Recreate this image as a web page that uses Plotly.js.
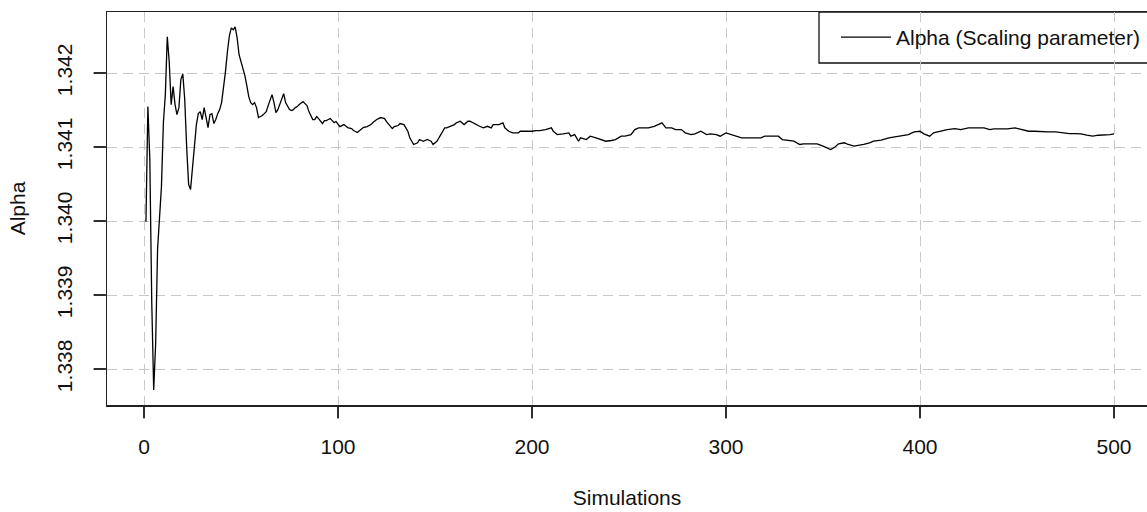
<!DOCTYPE html>
<html>
<head>
<meta charset="utf-8">
<script src="https://cdn.plot.ly/plotly-3.0.1.min.js"></script>
<style>
html,body{margin:0;padding:0;background:#fff;}
#chart{width:1147px;height:512px;}
.js-plotly-plot .plotly path.ticks{shape-rendering:geometricPrecision !important;}
</style>
</head>
<body>
<div id="chart"></div>
<script>
// Simulation index (x) and running estimate of alpha (y)
const simulations = [
  1,2,3,4,5,6,7,8,9,10,11,12,13,14,15,16,17,18,19,20,
  21,22,23,24,25,26,27,28,29,30,31,32,33,34,35,36,37,38,39,40,
  41,42,43,44,45,46,47,48,49,50,51,52,53,54,55,56,57,58,59,60,
  61,62,63,64,65,66,67,68,69,70,71,72,73,74,75,76,77,78,79,80,
  81,82,83,84,85,86,87,88,89,90,91,92,93,94,95,96,97,98,99,100,
  101,103,105,107,108,110,111,112,113,115,117,118,120,122,124,125,127,128,129,131,
  132,134,136,137,139,141,142,144,146,148,149,151,153,155,156,158,160,161,163,165,
  167,168,171,173,175,177,179,180,183,185,186,188,190,193,194,197,198,200,202,204,
  207,210,211,213,216,219,220,222,224,225,228,230,233,236,238,241,243,246,248,251,
  253,255,258,260,263,265,267,269,272,274,277,279,282,284,287,290,292,295,297,300,
  303,305,308,311,315,318,320,323,327,329,332,335,338,340,344,347,350,352,354,356,
  358,361,363,366,369,371,374,376,380,384,387,390,394,397,400,402,405,407,411,414,
  418,421,425,428,431,433,436,438,442,445,449,452,456,459,463,466,470,473,477,480,
  483,486,489,492,495,498,500
];
const alpha = [
  1.33999,1.341546,1.340832,1.33890,1.337718,1.338338,1.339619,1.34009,1.340468,1.34133,
  1.341708,1.342489,1.342152,1.341573,1.341815,1.341573,1.341438,1.341532,1.34191,1.34199,
  1.34164,1.340993,1.340495,1.340427,1.340697,1.340993,1.341303,1.341451,1.341478,1.341371,
  1.341532,1.341398,1.341263,1.341438,1.341451,1.341317,1.341371,1.341451,1.341505,1.3416,
  1.341775,1.342018,1.342287,1.342503,1.34261,1.342584,1.342624,1.342476,1.342247,1.342152,
  1.342044,1.341964,1.341829,1.341681,1.3416,1.341573,1.3416,1.341532,1.341398,1.341411,
  1.341425,1.341451,1.341478,1.341559,1.34164,1.341708,1.3416,1.341465,1.341505,1.341586,
  1.341667,1.341721,1.3416,1.341546,1.341505,1.341492,1.341505,1.341532,1.341546,1.341573,
  1.3416,1.341613,1.341586,1.341559,1.341478,1.341425,1.341371,1.341371,1.341411,1.341384,
  1.341344,1.341317,1.341357,1.341357,1.341371,1.341384,1.341357,1.34133,1.341344,1.341317,
  1.341276,1.341303,1.341263,1.341249,1.341222,1.341195,1.341222,1.341236,1.341263,1.341276,
  1.341303,1.34133,1.341371,1.341398,1.341384,1.341344,1.341276,1.341249,1.341276,1.34129,
  1.341317,1.341303,1.341213,1.341124,1.341034,1.341057,1.341101,1.341078,1.341101,1.341078,
  1.341034,1.341078,1.341168,1.341259,1.341259,1.34128,1.341303,1.341326,1.341348,1.341303,
  1.341348,1.341348,1.341303,1.34128,1.341259,1.34128,1.341259,1.341303,1.341303,1.341326,
  1.341259,1.341213,1.341191,1.341191,1.341213,1.341213,1.341205,1.341213,1.341222,1.341222,
  1.341236,1.341259,1.341213,1.341168,1.341178,1.341191,1.341146,1.341168,1.341078,1.341124,
  1.341101,1.341146,1.341124,1.341101,1.341078,1.341088,1.341101,1.341146,1.341146,1.341168,
  1.341236,1.341259,1.341259,1.341259,1.34128,1.341303,1.341326,1.341259,1.341259,1.341236,
  1.341236,1.341191,1.341168,1.341178,1.341213,1.341168,1.341178,1.341168,1.341146,1.341191,
  1.341168,1.341146,1.341124,1.341124,1.341124,1.341124,1.341146,1.341146,1.341146,1.341101,
  1.341088,1.341078,1.341034,1.341043,1.341043,1.341043,1.341011,1.340989,1.340966,1.340997,
  1.341043,1.341057,1.341034,1.341011,1.341024,1.341034,1.341057,1.341078,1.341092,1.341124,
  1.341137,1.341146,1.341168,1.341205,1.341213,1.341178,1.341146,1.341191,1.341222,1.341236,
  1.341249,1.341236,1.341259,1.341259,1.341267,1.341259,1.341236,1.341245,1.341245,1.341245,
  1.341259,1.341236,1.341213,1.341213,1.341205,1.341205,1.341205,1.341191,1.341182,1.341182,
  1.341178,1.341159,1.341146,1.341159,1.341159,1.341168,1.341178
];
const xTicks = [0, 100, 200, 300, 400, 500];
const yTicks = [1.338, 1.339, 1.340, 1.341, 1.342];
const yTickText = ['1.338', '1.339', '1.340', '1.341', '1.342'];
const seriesName = 'Alpha (Scaling parameter)';

const font = {family: 'Liberation Sans, Arial, sans-serif', size: 21, color: '#111'};
const gridDash = '10px,6px';
const plotW = 1040, plotH = 393, tickLen = 12;
const xRange = [-19.0722, 517.0103];
const yRange = [1.3375135, 1.3428243];

const trace = {
  x: simulations, y: alpha, type: 'scatter', mode: 'lines', name: seriesName,
  line: {color: '#000', width: 1.3}
};

// tick marks drawn as shapes (placed from the axis ranges and tick values)
const tickShapes = [];
xTicks.forEach(v => {
  const fx = (v - xRange[0]) / (xRange[1] - xRange[0]);
  tickShapes.push({type: 'line', xref: 'paper', yref: 'paper', layer: 'above',
    x0: fx, x1: fx, y0: 0, y1: -(tickLen + 1) / plotH, line: {color: '#222', width: 1.5}});
});
yTicks.forEach(v => {
  const fy = (v - yRange[0]) / (yRange[1] - yRange[0]);
  tickShapes.push({type: 'line', xref: 'paper', yref: 'paper', layer: 'above',
    x0: 0, x1: -(tickLen + 1) / plotW, y0: fy, y1: fy, line: {color: '#222', width: 1.5}});
});

const layout = {
  width: 1147, height: 512,
  margin: {l: 107, r: 0, t: 12, b: 107, pad: 0},
  paper_bgcolor: '#fff', plot_bgcolor: '#fff',
  font: font,
  showlegend: true,
  legend: {
    x: (819 - 107) / plotW, xanchor: 'left', y: 1 - 5 / plotH, yanchor: 'top',
    bgcolor: 'rgba(0,0,0,0)', borderwidth: 0,
    font: font, itemwidth: 50, indentation: 17
  },
  shapes: [{
    type: 'rect', xref: 'paper', yref: 'paper', layer: 'below',
    x0: (819 - 107) / plotW, x1: 1.05, y0: 1 - 51 / plotH, y1: 1,
    line: {color: '#111', width: 1.3}, fillcolor: '#fff'
  }].concat(tickShapes),
  xaxis: {
    range: xRange, tickvals: xTicks, ticktext: xTicks.map(String),
    showgrid: true, gridcolor: '#c8c8c8', griddash: gridDash, gridwidth: 1,
    zeroline: false, showline: true, mirror: true, linecolor: '#222', linewidth: 1.5,
    ticks: 'outside', ticklen: tickLen, tickwidth: 1.5, tickcolor: '#222',
    ticklabelstandoff: 10,
    title: {text: 'Simulations', font: font, standoff: 33}
  },
  yaxis: {
    range: yRange, tickvals: yTicks, ticktext: yTickText, tickangle: -90,
    showgrid: true, gridcolor: '#c8c8c8', griddash: gridDash, gridwidth: 1,
    zeroline: false, showline: true, mirror: false, linecolor: '#222', linewidth: 1.5,
    ticks: 'outside', ticklen: tickLen, tickwidth: 1.5, tickcolor: '#222',
    ticklabelstandoff: 13,
    title: {text: 'Alpha', font: font, standoff: 21}
  }
};

Plotly.newPlot('chart', [trace], layout, {displayModeBar: false, staticPlot: true});
</script>
</body>
</html>
